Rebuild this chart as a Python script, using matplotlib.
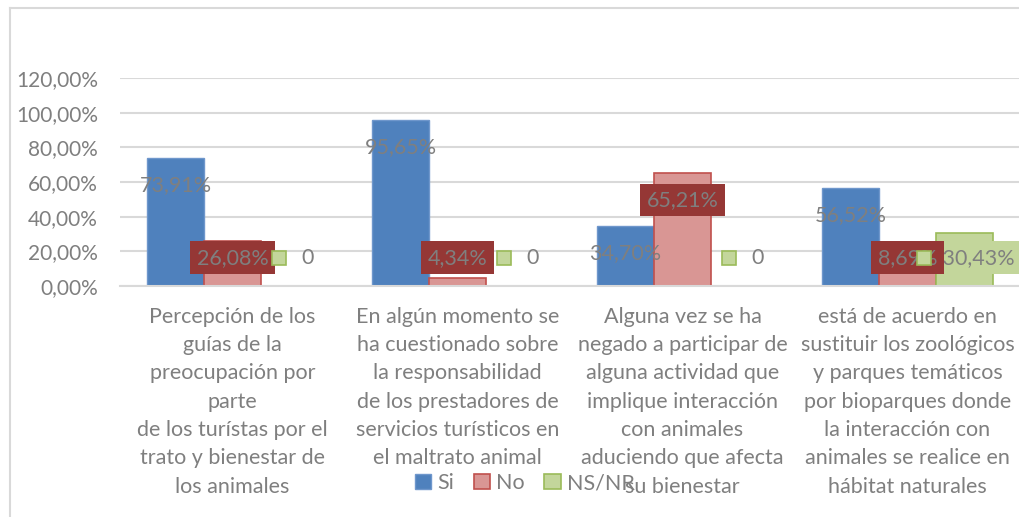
import matplotlib.pyplot as plt
from matplotlib.patches import Rectangle
from matplotlib.lines import Line2D

categories = [
    "Percepción de los\nguías de la\npreocupación por\nparte\nde los turístas por el\ntrato y bienestar de\nlos animales",
    "En algún momento se\nha cuestionado sobre\nla responsabilidad\nde los prestadores de\nservicios turísticos en\nel maltrato animal",
    "Alguna vez se ha\nnegado a participar de\nalguna actividad que\nimplique interacción\ncon animales\naduciendo que afecta\nsu bienestar",
    "está de acuerdo en\nsustituir los zoológicos\ny parques temáticos\npor bioparques donde\nla interacción con\nanimales se realice en\nhábitat naturales",
]
si_vals = [73.91, 95.65, 34.70, 56.52]
no_vals = [26.08, 4.34, 65.21, 8.69]
ns_vals = [0, 0, 0, 30.43]
si_labels = ["73,91%", "95,65%", "34,70%", "56,52%"]
no_labels = ["26,08%", "4,34%", "65,21%", "8,69%"]
ns_labels = ["0", "0", "0", "30,43%"]
yticks = [0, 20, 40, 60, 80, 100, 120]
ytick_labels = ["0,00%", "20,00%", "40,00%", "60,00%", "80,00%", "100,00%", "120,00%"]

plt.rcParams['font.family'] = ['Lato', 'DejaVu Sans']
txt = '#7f7f7f'
grid = '#d9d9d9'

fig = plt.figure(figsize=(10.2, 5.17), dpi=100)
ax = fig.add_axes([120/1020, (517-286)/517, 900/1020, (286-78)/517])

# outer chart border (left and top only visible)
fig.add_artist(Line2D([10/1020, 10/1020], [0, 1-8/517], color=grid, lw=1.5))
fig.add_artist(Line2D([10/1020, 1], [1-8/517, 1-8/517], color=grid, lw=1.5))

w = 0.253
x = [i + 0.5 for i in range(len(categories))]
ax.bar([v - w for v in x], si_vals, w, color='#4f81bd', edgecolor='#6f97cc', lw=1, zorder=2, label='Si')
ax.bar(x, no_vals, w, color='#d99694', edgecolor='#c0504d', lw=1.2, zorder=2, label='No')
ax.bar([v + w for v in x], ns_vals, w, color='#c3d69b', edgecolor='#9bbb59', lw=1.2, zorder=2, label='NS/NR')

ax.set_xlim(0, 4)
ax.set_ylim(0, 120)
ax.set_yticks(yticks)
ax.set_yticklabels(ytick_labels, color=txt, fontsize=15)
ax.set_xticks(x)
ax.set_xticklabels(categories, color=txt, fontsize=15.5, linespacing=1.52)
ax.tick_params(length=0)
ax.tick_params(axis='x', pad=15)
ax.tick_params(axis='y', pad=16)
ax.grid(axis='y', color=grid, lw=1.5, zorder=0)
for s in ['top', 'right', 'left']:
    ax.spines[s].set_visible(False)
ax.spines['bottom'].set_color(grid)
ax.spines['bottom'].set_linewidth(1.5)


def label_y(v):
    return max(v - 15.6, 16.2)


for i in range(4):
    ax.text(x[i] - w, label_y(si_vals[i]), si_labels[i], ha='center', va='center',
            color=txt, fontsize=15.5, zorder=5)
    ax.text(x[i], label_y(no_vals[i]), no_labels[i], ha='center', va='center',
            color=txt, fontsize=15.5, zorder=5,
            bbox=dict(boxstyle='square,pad=0.3', fc='#953735', ec='none'))
    # NS/NR label with a legend key in front of the value
    yy = label_y(ns_vals[i])
    px, py = ax.transData.transform((x[i] + w, yy))
    if ns_vals[i] > 0:
        ax.text(x[i] + w, yy, "     " + ns_labels[i], ha='center', va='center',
                color=txt, fontsize=15.5, zorder=4,
                bbox=dict(boxstyle='square,pad=0.3', fc='#c3d69b', ec='none'))
        kx = px - 40
    else:
        ax.text(x[i] + w + 0.08, yy, ns_labels[i], ha='center', va='center',
                color=txt, fontsize=15.5, zorder=6)
        kx = px - 10
    fig.add_artist(Rectangle((kx - 7, py - 7), 14, 14, transform=None,
                             fc='#c3d69b', ec='#9bbb59', lw=1.2, zorder=8))

fig.legend(loc='center', bbox_to_anchor=(525/1020, 1 - 483/517), ncol=3, frameon=False,
           fontsize=15.5, labelcolor=txt, handlelength=0.75, handleheight=0.75,
           handletextpad=0.3, columnspacing=0.9)

fig.savefig('out.png', dpi=100)
